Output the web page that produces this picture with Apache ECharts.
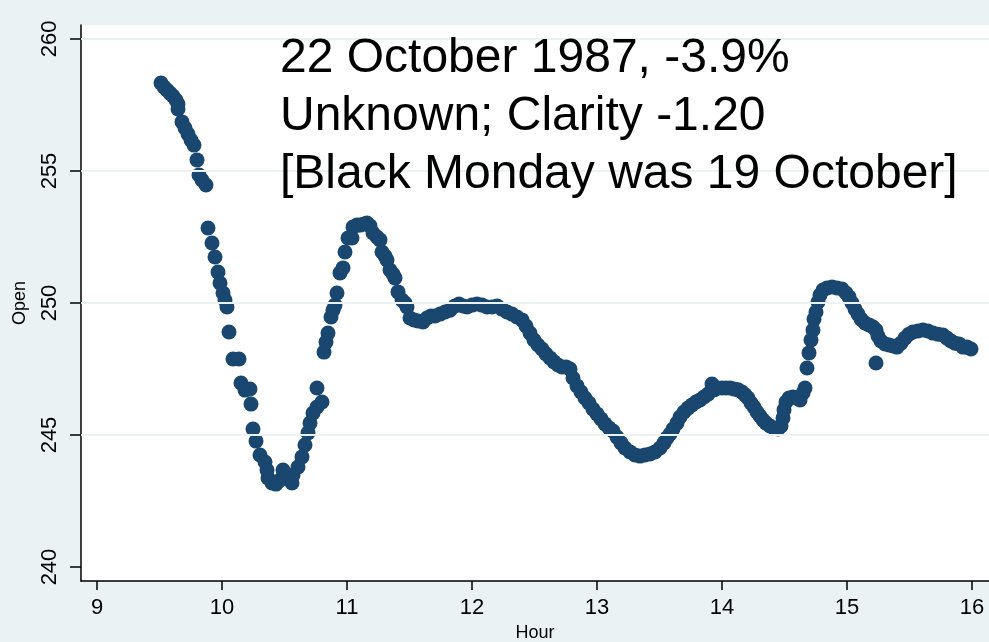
<!DOCTYPE html>
<html>
<head>
<meta charset="utf-8">
<title>22 October 1987</title>
<script src="https://cdn.jsdelivr.net/npm/echarts@6/dist/echarts.min.js"></script>
<style>
  html, body { margin: 0; padding: 0; background: #eaf2f3; }
  #chart { width: 989px; height: 642px; }
</style>
</head>
<body>
<div id="chart"></div>
<script>
// values (hour of day, opening price)
var hours = [
  9.512, 9.536, 9.56, 9.584, 9.608, 9.632, 9.648, 9.648, 9.68, 9.704,
  9.728, 9.752, 9.776, 9.80, 9.816, 9.84, 9.872,
  9.888, 9.92, 9.944, 9.968, 9.984, 10.008, 10.024, 10.04, 10.056, 10.088,
  10.136, 10.152, 10.184, 10.224, 10.232, 10.248, 10.272, 10.304, 10.344, 10.36,
  10.368, 10.40, 10.432, 10.464, 10.488, 10.52, 10.56, 10.568, 10.608, 10.64,
  10.664, 10.688, 10.704, 10.728, 10.76, 10.80, 10.76,
  10.816, 10.832, 10.848, 10.872, 10.888, 10.904, 10.92, 10.944, 10.968, 10.984,
  11.008, 11.04, 11.048, 11.08, 11.104, 11.136, 11.16, 11.184, 11.208, 11.24,
  11.264, 11.28, 11.304, 11.32, 11.344, 11.368, 11.384, 11.408, 11.44, 11.464,
  11.48, 11.504, 11.536, 11.568, 11.608, 11.64, 11.672, 11.704, 11.744, 11.784,
  11.824, 11.864, 11.896, 11.928, 11.96, 12.00, 12.04, 12.08, 12.12, 12.16,
  12.20, 12.24, 12.28, 12.32, 12.36, 12.40, 12.432, 12.464, 12.496, 12.528,
  12.56, 12.592, 12.624, 12.656, 12.688, 12.72, 12.752, 12.784, 12.808, 12.84,
  12.872, 12.904, 12.936, 12.968, 13.00, 13.032, 13.064, 13.096, 13.128, 13.16,
  13.192, 13.224, 13.264, 13.304, 13.344, 13.384, 13.424, 13.464, 13.504, 13.536,
  13.56, 13.584, 13.608, 13.64, 13.664, 13.696, 13.728, 13.76, 13.792, 13.824,
  13.856, 13.888, 13.92, 13.936, 13.968, 14.00, 14.032, 14.064, 14.096, 14.128,
  14.16, 14.184, 14.208, 14.232, 14.256, 14.28, 14.304, 14.328, 14.352, 14.384,
  14.416, 14.448, 14.472, 14.488, 14.496, 14.512, 14.536, 14.568, 14.60, 14.624,
  14.648, 14.664, 14.68, 14.696, 14.712, 14.728, 14.736, 14.752, 14.768, 14.784,
  14.808, 14.84, 14.88, 14.92, 14.96, 14.992, 15.016, 15.04, 15.064, 15.088,
  15.112, 15.144, 15.176, 15.208, 15.232, 15.248, 15.272, 15.304, 15.336, 15.368,
  15.40, 15.432, 15.464, 15.496, 15.528, 15.568, 15.608, 15.648, 15.688, 15.728,
  15.768, 15.80, 15.832, 15.864, 15.896, 15.928, 15.96, 15.992,
  15.232
];
var opens = [
  258.33, 258.18, 258.07, 257.95, 257.84, 257.69, 257.54, 257.35, 256.86, 256.63,
  256.40, 256.17, 255.98, 255.42, 254.85, 254.66, 254.47,
  252.84, 252.27, 251.74, 251.17, 250.76, 250.38, 250.11, 249.85, 248.90, 247.88,
  247.88, 246.97, 246.70, 246.74, 246.17, 245.23, 244.77, 244.24, 243.98, 243.67,
  243.37, 243.18, 243.14, 243.29, 243.67, 243.48, 243.18, 243.48, 243.79, 244.17,
  244.62, 245.08, 245.45, 245.83, 246.06, 246.25, 246.78,
  248.14, 248.52, 248.86, 249.47, 249.73, 249.92, 250.38, 251.14, 251.33, 251.93,
  252.46, 252.46, 252.88, 252.95, 252.95, 252.99, 253.03, 252.92, 252.65, 252.50,
  252.39, 251.93, 251.78, 251.63, 251.25, 251.10, 250.95, 250.42, 250.11, 250.00,
  249.85, 249.43, 249.36, 249.32, 249.28, 249.43, 249.51, 249.51, 249.58, 249.66,
  249.73, 249.89, 249.96, 249.89, 249.85, 249.92, 249.96, 249.92, 249.85, 249.85,
  249.89, 249.77, 249.66, 249.58, 249.47, 249.36, 249.13, 248.86, 248.60, 248.41,
  248.26, 248.07, 247.92, 247.77, 247.65, 247.58, 247.58, 247.50, 247.16, 246.86,
  246.63, 246.40, 246.21, 245.98, 245.80, 245.61, 245.42, 245.27, 245.15, 244.92,
  244.70, 244.51, 244.36, 244.24, 244.20, 244.24, 244.28, 244.36, 244.51, 244.70,
  244.89, 245.04, 245.23, 245.45, 245.68, 245.87, 246.02, 246.14, 246.25, 246.33,
  246.44, 246.55, 246.93, 246.71, 246.78, 246.78, 246.78, 246.78, 246.74, 246.71,
  246.63, 246.52, 246.40, 246.21, 246.06, 245.87, 245.72, 245.57, 245.45, 245.34,
  245.27, 245.23, 245.34, 245.64, 245.95, 246.25, 246.40, 246.44, 246.40, 246.33,
  246.59, 246.78, 247.54, 248.11, 248.60, 248.98, 249.39, 249.66, 250.04, 250.30,
  250.49, 250.57, 250.61, 250.57, 250.53, 250.38, 250.23, 250.00, 249.77, 249.58,
  249.39, 249.24, 249.17, 249.09, 248.98, 248.75, 248.56, 248.45, 248.41, 248.37,
  248.33, 248.48, 248.67, 248.82, 248.90, 248.94, 248.98, 248.94, 248.86, 248.82,
  248.79, 248.67, 248.56, 248.48, 248.45, 248.33, 248.33, 248.26,
  247.73
];
var xTicks = [9, 10, 11, 12, 13, 14, 15, 16];
var yTicks = [240, 245, 250, 255, 260];
var gridValues = [245, 250, 255, 260];
var noteLines = [
  '22 October 1987, -3.9%',
  'Unknown; Clarity -1.20',
  '[Black Monday was 19 October]'
];

var font = "'Liberation Sans', Arial, sans-serif";
var navy = '#1a476f';
var pale = '#eaf2f3';

var points = hours.map(function (h, i) {
  return [h, opens[i]];
});

var chart = echarts.init(document.getElementById('chart'));
chart.setOption({
  animation: false,
  backgroundColor: pale,
  textStyle: { fontFamily: font },
  grid: {
    left: 81, top: 25, right: 0, bottom: 61,
    outerBoundsMode: 'none',
    containLabel: false,
    show: true, backgroundColor: '#ffffff', borderWidth: 0
  },
  xAxis: {
    type: 'value',
    min: 8.872, max: 16.136,
    name: 'Hour', nameLocation: 'middle', nameGap: 43,
    nameTextStyle: { fontSize: 18, color: '#000', fontFamily: font },
    axisLine: { show: true, onZero: false, lineStyle: { color: '#000', width: 1.5 } },
    axisTick: { show: true, length: 9, customValues: xTicks, lineStyle: { color: '#000', width: 1.5 } },
    axisLabel: { customValues: xTicks, fontSize: 22, color: '#000', margin: 16, fontFamily: font },
    splitLine: { show: false }
  },
  yAxis: {
    type: 'value',
    min: 239.47, max: 260.53,
    name: 'Open', nameLocation: 'middle', nameGap: 52, nameRotate: 90,
    nameTextStyle: { fontSize: 18, color: '#000', fontFamily: font },
    axisLine: { show: true, onZero: false, lineStyle: { color: '#000', width: 1.5 } },
    axisTick: { show: true, length: 11, customValues: yTicks, lineStyle: { color: '#000', width: 1.5 } },
    axisLabel: { customValues: yTicks, rotate: 90, fontSize: 22, color: '#000', margin: 20, fontFamily: font },
    splitLine: { show: false }
  },
  graphic: [{
    type: 'text',
    left: 280, top: 30,
    z: 10,
    style: {
      text: noteLines.join('\n'),
      font: '48px ' + font,
      lineHeight: 58,
      fill: '#000'
    }
  }],
  series: [{
    type: 'scatter',
    data: [],
    z: 1,
    silent: true,
    markLine: {
      silent: true,
      symbol: 'none',
      label: { show: false },
      lineStyle: { color: pale, width: 2, type: 'solid' },
      data: gridValues.map(function (v) { return { yAxis: v }; })
    }
  }, {
    type: 'scatter',
    z: 3,
    data: points,
    symbol: 'circle',
    symbolSize: 15,
    itemStyle: { color: navy, opacity: 1 }
  }]
});
</script>
</body>
</html>
